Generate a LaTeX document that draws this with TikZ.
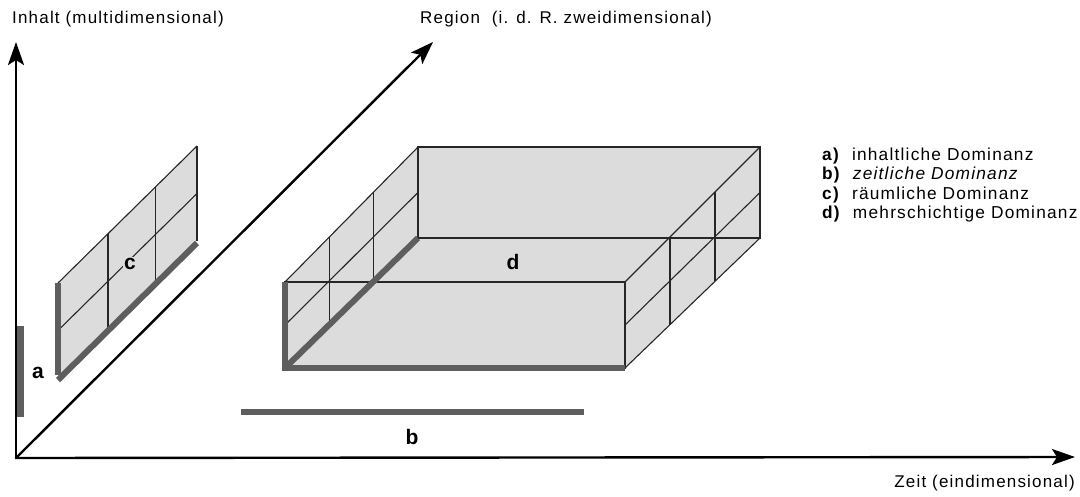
\documentclass[tikz,border=0pt]{standalone}
\usepackage{fontspec}
\setmainfont{Liberation Sans}
\newfontfamily\labfont[LetterSpace=7]{Liberation Sans}
\usetikzlibrary{arrows.meta,calc}
\definecolor{paneFill}{HTML}{DCDCDC}
\definecolor{domGray}{HTML}{5E5E5E}
\tikzset{
  axisline/.style={line width=2.4pt,black,-{Stealth[length=23pt,width=16pt,inset=5pt]}},
  edge/.style={line width=1.1pt,black!85},
  domline/.style={line width=6pt,domGray},
  pane/.style={fill=paneFill,draw=none},
  axlabel/.style={inner sep=0pt,font=\labfont\fontsize{17}{19}\selectfont},
  letterlab/.style={inner sep=0pt,font=\bfseries\fontsize{21}{24}\selectfont},
  legend/.style={inner sep=0pt,anchor=west,font=\labfont\fontsize{17.3}{19}\selectfont}
}
\begin{document}
\begin{tikzpicture}[x=1pt,y=-1pt]
\useasboundingbox (0,0) rectangle (1080,496);
\fill[white] (0,0) rectangle (1080,496);

% ---------- box d ----------
\coordinate (fbl) at (285,368);
\coordinate (fbr) at (625,368);
\coordinate (ftr) at (625,282);
\coordinate (ftl) at (285,282);
\coordinate (bbl) at (418,238);
\coordinate (bbr) at (760,238);
\coordinate (btr) at (760,147);
\coordinate (btl) at (418,147);
\fill[pane] (fbl) -- (ftl) -- (btl) -- (btr) -- (bbr) -- (fbr) -- cycle;
\draw[edge] (btl) -- (btr) -- (bbr) -- (bbl) -- cycle;
\draw[edge] (ftl) -- (btl);
\draw[edge] (ftr) -- (btr);
\draw[edge] (fbr) -- (bbr);
\draw[edge] ($(ftl)!1/3!(btl)$) -- ($(fbl)!1/3!(bbl)$);
\draw[edge] ($(ftl)!2/3!(btl)$) -- ($(fbl)!2/3!(bbl)$);
\draw[edge] ($(ftl)!0.5!(fbl)$) -- ($(btl)!0.5!(bbl)$);
\draw[edge] ($(ftr)!1/3!(btr)$) -- ($(fbr)!1/3!(bbr)$);
\draw[edge] ($(ftr)!2/3!(btr)$) -- ($(fbr)!2/3!(bbr)$);
\draw[edge] ($(ftr)!0.5!(fbr)$) -- ($(btr)!0.5!(bbr)$);
\draw[edge] (fbl) rectangle (ftr);
\draw[domline] (fbl) -- (bbl);
\draw[domline] ([xshift=-3pt]fbl) -- (fbr);
\draw[domline] ([yshift=3pt]fbl) -- (ftl);
\node[letterlab] (d) at (513,262) {d};

% ---------- panel c ----------
\coordinate (clb) at (58,378);
\coordinate (crb) at (197,241);
\coordinate (crt) at (197,146);
\coordinate (clt) at (58,283);
\fill[pane] (clb) -- (crb) -- (crt) -- (clt) -- cycle;
\draw[edge] (clt) -- (crt);
\draw[edge] (crt) -- (crb);
\draw[edge] ($(clt)!0.5!(clb)$) -- ($(crt)!0.5!(crb)$);
\draw[edge] ($(clt)!0.36!(crt)$) -- ($(clb)!0.36!(crb)$);
\draw[edge] ($(clt)!0.70!(crt)$) -- ($(clb)!0.70!(crb)$);
\draw[domline] ([yshift=-2pt]clb) -- ([yshift=-2pt]crb);
\draw[domline] ([yshift=3pt]clb) -- (clt);
\node[letterlab,fill=paneFill,inner sep=1pt] (c) at (130,264) {c};

% ---------- axes ----------
\coordinate (O) at (16,458);
\coordinate (ytip) at (16,42);
\coordinate (xtip) at (1075,457);
\coordinate (ztip) at (433,42);
\draw[axisline] (O) -- (ytip);
\draw[axisline] ([xshift=-1pt]O) -- (xtip);
\draw[axisline] (O) -- (ztip);

% ---------- bars a, b ----------
\coordinate (a1) at (20,326);
\coordinate (a2) at (20,417);
\draw[line width=7pt,domGray] (a1) -- (a2);
\node[letterlab] (a) at (38,373) {a};
\coordinate (b1) at (241,412);
\coordinate (b2) at (584,412);
\draw[domline] (b1) -- (b2);
\node[letterlab] (b) at (412,437) {b};

% ---------- labels ----------
\node[axlabel,anchor=west] (inhalt) at (12,19) {Inhalt (multidimensional)};
\node[axlabel,anchor=west] (region) at (420,19) {Region\ \ (i. d. R. zweidimensional)};
\node[axlabel,anchor=east] (zeit) at (1075,483) {Zeit (eindimensional)};

\node[legend] (la) at (822,156) {\textbf{a)}\ \ inhaltliche Dominanz};
\node[legend] (lb) at (822,175.5) {\textbf{b)}\ \ \textit{zeitliche Dominanz}};
\node[legend] (lc) at (822,195) {\textbf{c)}\ \ räumliche Dominanz};
\node[legend] (ld) at (822,214.5) {\textbf{d)}\ \ mehrschichtige Dominanz};
\end{tikzpicture}
\end{document}
